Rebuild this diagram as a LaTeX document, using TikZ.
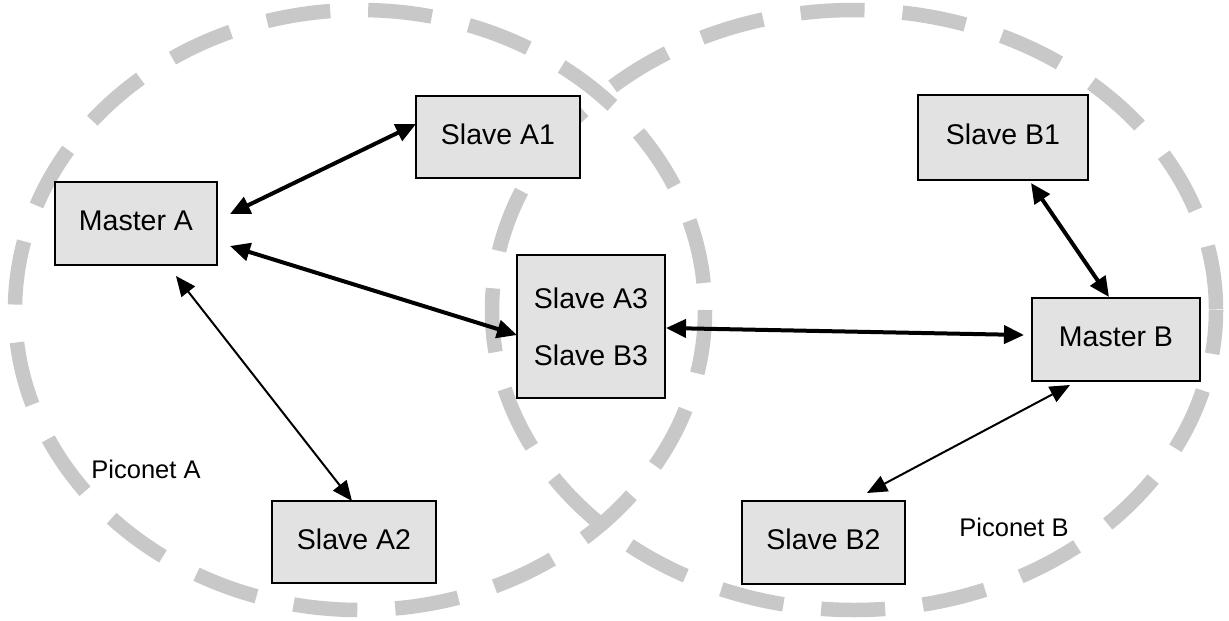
\documentclass[tikz,border=0pt]{standalone}
\usepackage{fontspec}
\setmainfont{Liberation Sans}
\usetikzlibrary{arrows.meta,calc}
\definecolor{boxgray}{RGB}{226,226,226}
\definecolor{ringgray}{RGB}{200,200,200}
\tikzset{
  unitbox/.style={draw=black, line width=2pt, fill=boxgray, inner sep=0pt, align=center,
    font=\fontsize{28.5}{57}\selectfont},
  ring/.style={draw=ringgray, line width=14.5pt, dash pattern=on 64pt off 38pt},
  link/.style={line width=4pt, {Triangle[length=20pt,width=18pt]}-{Triangle[length=20pt,width=18pt]}},
  thinlink/.style={line width=2pt, {Triangle[length=20pt,width=17pt]}-{Triangle[length=20pt,width=17pt]}},
  netlabel/.style={font=\fontsize{25.5}{30}\selectfont, inner sep=0pt}
}
\begin{document}
\begin{tikzpicture}[x=1pt,y=-1pt]
\useasboundingbox (0,0) rectangle (1229,621);
\fill[white] (0,0) rectangle (1229,621);
% piconet rings
\draw[ring] (360,310) ellipse [x radius=345, y radius=300];
\draw[ring, dash phase=20pt] (854,310) ellipse [x radius=362, y radius=300];
% nodes
\node[unitbox, minimum width=162pt, minimum height=83pt] (ma) at (136,223.5) {Master A\vphantom{g}};
\node[unitbox, minimum width=164pt, minimum height=82pt] (a1) at (498,137) {Slave A1\vphantom{g}};
\node[unitbox, minimum width=164pt, minimum height=82pt] (a2) at (354,542) {Slave A2\vphantom{g}};
\node[unitbox, minimum width=148pt, minimum height=143pt] (a3) at (591,326.5) {Slave A3\\Slave B3};
\node[unitbox, minimum width=170pt, minimum height=85pt] (b1) at (1003,137.5) {Slave B1\vphantom{g}};
\node[unitbox, minimum width=168pt, minimum height=83pt] (mb) at (1116,339.5) {Master B\vphantom{g}};
\node[unitbox, minimum width=163pt, minimum height=83pt] (b2) at (823.5,542.5) {Slave B2\vphantom{g}};
% labels
\node[netlabel] (pa) at (146,469) {Piconet A};
\node[netlabel] (pb) at (1014,527) {Piconet B};
% connectors
\draw[link] ([shift={(12,33)}]ma.north east) -- ([shift={(1,-13)}]a1.west);
\draw[link] ([shift={(12,65)}]ma.north east) -- ([shift={(1,8.5)}]a3.west);
\draw[thinlink] ([shift={(40,10)}]ma.south) -- ([shift={(-2,1)}]a2.north);
\draw[link] ([shift={(0,1.5)}]a3.east) -- ([shift={(-7,-4.5)}]mb.west);
\draw[link] ([shift={(28,2)}]b1.south) -- ([shift={(-7,0)}]mb.north);
\draw[thinlink] ([shift={(-46,3)}]mb.south) -- ([shift={(43.5,-7)}]b2.north);
\end{tikzpicture}
\end{document}
